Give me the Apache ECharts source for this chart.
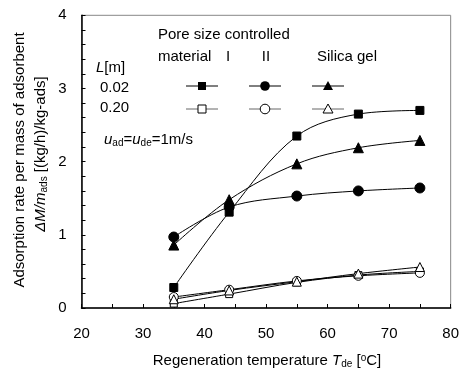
<!DOCTYPE html>
<html><head><meta charset="utf-8">
<script src="https://cdn.jsdelivr.net/npm/echarts@6/dist/echarts.min.js"></script>
<style>html,body{margin:0;padding:0;background:#fff}#c{width:462px;height:372px}</style>
</head><body><div id="c"></div>
<script>
const temps = [35, 44, 55, 65, 75];
const sqFilled = [0.28, 1.31, 2.35, 2.65, 2.70];
const ciFilled = [0.97, 1.38, 1.53, 1.60, 1.64];
const trFilled = [0.86, 1.48, 1.97, 2.19, 2.29];
const sqOpen = [0.06, 0.19, 0.35, 0.45, 0.50];
const ciOpen = [0.15, 0.25, 0.37, 0.44, 0.48];
const trOpen = [0.12, 0.24, 0.36, 0.47, 0.56];
const xTicks = [20, 30, 40, 50, 60, 70, 80];
const yTicks = [0, 1, 2, 3, 4];

const FONT = 'Liberation Sans, Arial, sans-serif';
const FS = 15;
const chart = echarts.init(document.getElementById('c'));
const pair = arr => temps.map((t, i) => [t, arr[i]]);
function ser(arr, symbol, size, filled) {
  return {
    type: 'line', data: pair(arr), smooth: 0.35, symbol: symbol, symbolSize: size,
    lineStyle: { color: '#000', width: 1 },
    itemStyle: { color: filled ? '#000' : '#fff', borderColor: '#000', borderWidth: 1 },
    z: filled ? 3 : 2
  };
}
const rich = {
  i: { fontFamily: FONT, fontSize: FS, fontStyle: 'italic', fill: '#000' },
  s: { fontFamily: FONT, fontSize: 10, fill: '#000', verticalAlign: 'bottom', padding: [6, 0, 0, 0] },
  sup: { fontFamily: FONT, fontSize: 10, fill: '#000', padding: [0, 0, 6, 0] },
  n: { fontFamily: FONT, fontSize: FS, fill: '#000' }
};
function txt(x, y, text, opts) {
  return { type: 'text', x: x, y: y, style: Object.assign({ text: text, fontFamily: FONT, fontSize: FS, fill: '#000', rich: rich, verticalAlign: 'middle', align: 'left' }, opts || {}) };
}
function legLine(cx, cy, color) {
  return { type: 'line', shape: { x1: cx - 16, y1: cy, x2: cx + 16, y2: cy }, style: { stroke: color, lineWidth: 1 } };
}
const g = [];
g.push(txt(158, 35, 'Pore size controlled'));
g.push(txt(158, 57, 'material'));
g.push(txt(228, 57, 'I', { align: 'center' }));
g.push(txt(266, 57, 'II', { align: 'center' }));
g.push(txt(317, 57, 'Silica gel'));
g.push(txt(96, 68, '{i|L}{n|[m]}'));
g.push(txt(100, 88, '0.02'));
g.push(txt(100, 108, '0.20'));
g.push(txt(104, 140, '{i|u}{s|ad}{n|=}{i|u}{s|de}{n|=1m/s}'));
// legend markers
const r1 = 86, r2 = 109;
g.push(legLine(202, r1, '#000'), legLine(265, r1, '#000'), legLine(328, r1, '#000'));
g.push(legLine(202, r2, '#666'), legLine(265, r2, '#666'), legLine(328, r2, '#666'));
g.push({ type: 'rect', shape: { x: 198, y: r1 - 4, width: 8, height: 8 }, style: { fill: '#000' } });
g.push({ type: 'circle', shape: { cx: 265, cy: r1, r: 4.8 }, style: { fill: '#000' } });
g.push({ type: 'polygon', shape: { points: [[328, r1 - 5], [323, r1 + 4], [333, r1 + 4]] }, style: { fill: '#000' } });
g.push({ type: 'rect', shape: { x: 198, y: r2 - 4, width: 8, height: 8 }, style: { fill: '#fff', stroke: '#000', lineWidth: 1 } });
g.push({ type: 'circle', shape: { cx: 265, cy: r2, r: 4.8 }, style: { fill: '#fff', stroke: '#000', lineWidth: 1 } });
g.push({ type: 'polygon', shape: { points: [[328, r2 - 5], [323, r2 + 4], [333, r2 + 4]] }, style: { fill: '#fff', stroke: '#000', lineWidth: 1 } });
// axis titles
g.push(txt(267, 361, '{n|Regeneration temperature }{i|T}{s|de}{n| [}{sup|o}{n|C]}', { align: 'center' }));
g.push({ type: 'text', x: 20, y: 160, rotation: Math.PI / 2, style: { text: 'Adsorption rate per mass of adsorbent', fontFamily: FONT, fontSize: FS, fill: '#000', align: 'center', verticalAlign: 'middle' } });
g.push({ type: 'text', x: 41, y: 154, rotation: Math.PI / 2, style: { text: '{i|ΔM}{i|/}{i|m}{s|ads}{n| [(kg/h)/kg-ads]}', rich: rich, fontFamily: FONT, fontSize: FS, fill: '#000', align: 'center', verticalAlign: 'middle' } });

chart.setOption({
  animation: false,
  grid: { left: 81.5, right: 9.5, top: 15.3, bottom: 64, show: true, borderColor: '#888', borderWidth: 1 },
  xAxis: {
    type: 'value', min: 20, max: 80, interval: 5,
    axisLine: { lineStyle: { color: '#000', width: 1.5 } },
    axisTick: { inside: true, length: 4, lineStyle: { color: '#000' } },
    axisLabel: { fontFamily: FONT, fontSize: FS, color: '#000', margin: 18,
      formatter: v => xTicks.indexOf(Math.round(v)) >= 0 && Math.abs(v - Math.round(v)) < 1e-6 ? String(Math.round(v)) : '' },
    splitLine: { show: false }
  },
  yAxis: {
    type: 'value', min: 0, max: 4, interval: 0.2,
    axisLine: { lineStyle: { color: '#000', width: 1.5 } },
    axisTick: { inside: true, length: 4, lineStyle: { color: '#000' } },
    axisLabel: { fontFamily: FONT, fontSize: FS, color: '#000', margin: 15,
      formatter: v => Math.abs(v - Math.round(v)) < 1e-6 && yTicks.indexOf(Math.round(v)) >= 0 ? String(Math.round(v)) : '' },
    splitLine: { show: false }
  },
  series: [
    ser(sqOpen, 'rect', 7, false),
    ser(ciOpen, 'circle', 9, false),
    ser(trOpen, 'triangle', 9, false),
    ser(sqFilled, 'rect', 8, true),
    ser(ciFilled, 'circle', 10, true),
    ser(trFilled, 'triangle', 10, true)
  ],
  graphic: g
});
</script></body></html>
